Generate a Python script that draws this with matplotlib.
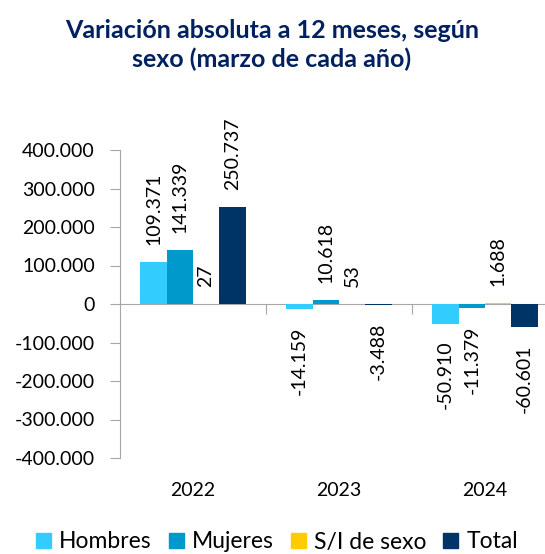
import matplotlib.pyplot as plt
from matplotlib.ticker import FuncFormatter
import matplotlib.transforms as mtransforms
import numpy as np

years = ["2022", "2023", "2024"]
series = ["Hombres", "Mujeres", "S/I de sexo", "Total"]
hombres = [109371, -14159, -50910]
mujeres = [141339, 10618, -11379]
sin_info = [27, 53, 1688]
total = [250737, -3488, -60601]
colors = ["#33CCFF", "#0099CC", "#FFCC00", "#003366"]


def fmt(v):
    s = f"{abs(v):,}".replace(",", ".")
    return ("-" if v < 0 else "") + s


def main():
    plt.rcParams["font.family"] = ["Lato", "DejaVu Sans"]
    fig = plt.figure(figsize=(5.45, 5.54), dpi=100)
    ax = fig.add_axes([120 / 545, 1 - 458 / 554, 438 / 545, 308 / 554])

    x = np.arange(len(years))
    width = 0.18
    data = [hombres, mujeres, sin_info, total]
    for i, (name, vals) in enumerate(zip(series, data)):
        pos = x - 0.36 + width * (i + 0.5)
        ax.bar(pos, vals, width, color=colors[i], label=name)
        for p, v in zip(pos, vals):
            off = 17 if v >= 0 else -17
            ax.annotate(fmt(v), (p, v), xytext=(0, off), textcoords="offset pixels",
                        rotation=90, ha="center", va="bottom" if v >= 0 else "top",
                        fontsize=14, color="black")

    ax.set_xlim(-0.5, 2.5)
    ax.set_ylim(-400000, 400000)
    ax.set_yticks(np.arange(-400000, 400001, 100000))
    ax.yaxis.set_major_formatter(FuncFormatter(lambda v, _: fmt(int(v))))
    ax.tick_params(axis="y", labelsize=14, length=7, color="#A6A6A6", pad=11)

    ax.spines["top"].set_visible(False)
    ax.spines["right"].set_visible(False)
    ax.spines["left"].set_color("#A6A6A6")
    ax.spines["bottom"].set_color("#A6A6A6")
    ax.spines["bottom"].set_position(("data", 0))
    ax.spines["bottom"].set_zorder(0)
    ax.set_xticks([0.5, 1.5])
    ax.set_xticklabels([])
    ax.tick_params(axis="x", length=7, color="#A6A6A6", direction="out")

    trans = mtransforms.blended_transform_factory(ax.transData, ax.transAxes)
    for xi, yr in zip(x, years):
        ax.text(xi, -0.104, yr, transform=trans, ha="center", va="center", fontsize=14)

    fig.text(272 / 545, 1 - 45 / 554, "Variación absoluta a 12 meses, según\nsexo (marzo de cada año)",
             ha="center", va="center", fontsize=18, fontweight="bold", color="#002060",
             linespacing=1.3)

    handles = [plt.Rectangle((0, 0), 1, 1, color=c) for c in colors]
    fig.legend(handles, series, loc="center", bbox_to_anchor=(277 / 545, 1 - 542 / 554),
               ncol=4, frameon=False, fontsize=16.5, handlelength=0.65, handleheight=0.65,
               handletextpad=0.35, columnspacing=0.75, borderaxespad=0)

    fig.savefig("out.png", dpi=100)
    plt.close(fig)


if __name__ == "__main__":
    main()
